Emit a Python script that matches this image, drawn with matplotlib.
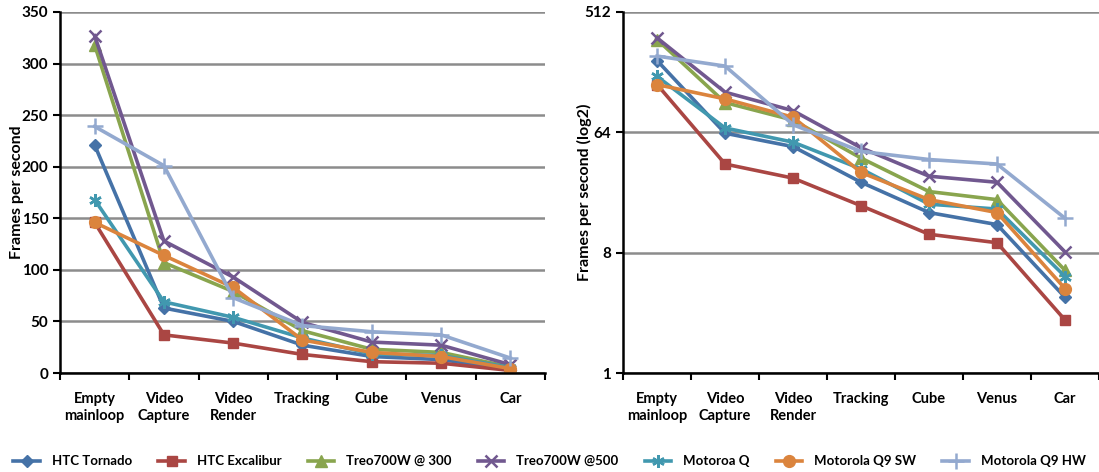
import numpy as np
import matplotlib.pyplot as plt
from matplotlib.ticker import FixedLocator, NullFormatter

plt.rcParams['font.family'] = ['Lato', 'DejaVu Sans']
plt.rcParams['font.weight'] = 'bold'

categories = ["Empty\nmainloop", "Video\nCapture", "Video\nRender", "Tracking", "Cube", "Venus", "Car"]

htc_tornado = [221, 63, 50, 27, 16, 13, 3.7]
htc_excalibur = [146, 37, 29, 18, 11, 9.5, 2.5]
treo_300 = [318, 107, 79, 41, 23, 20, 5.9]
treo_500 = [327, 128, 93, 49, 30, 27, 8.1]
motoroa_q = [168, 69, 54, 34, 18.5, 17, 5.3]
q9_sw = [146, 114, 83, 32, 20, 16, 4.3]
q9_hw = [239, 201, 73, 46, 40, 37, 14.5]

series = [
    ("HTC Tornado", htc_tornado, "#4572A7", "D", 6.5),
    ("HTC Excalibur", htc_excalibur, "#AA4643", "s", 7.5),
    ("Treo700W @ 300", treo_300, "#89A54E", "^", 8.5),
    ("Treo700W @500", treo_500, "#71588F", "x", 8.5),
    ("Motoroa Q", motoroa_q, "#4198AF", (6, 2, 0), 9),
    ("Motorola Q9 SW", q9_sw, "#DB843D", "o", 8.5),
    ("Motorola Q9 HW", q9_hw, "#93A9CF", "+", 11),
]

fig = plt.figure(figsize=(10.99, 4.72), dpi=100)
ax1 = fig.add_axes([0.0546, 0.2097, 0.4413, 0.7649])
ax2 = fig.add_axes([0.567, 0.2097, 0.433, 0.7649])

x = np.arange(len(categories))
for ax in (ax1, ax2):
    for name, vals, col, mk, ms in series:
        ax.plot(x, vals, color=col, lw=2.6, marker=mk, markersize=ms,
                markeredgewidth=1.8 if mk in ("x", "+", (6, 2, 0)) else 1,
                markeredgecolor=col, label=name, zorder=3)
    ax.set_xlim(-0.5, 6.5)
    ax.xaxis.set_major_locator(FixedLocator(np.arange(-0.5, 7, 1)))
    ax.xaxis.set_major_formatter(NullFormatter())
    ax.tick_params(axis='x', which='major', direction='out', length=5, width=1.5)
    ax.tick_params(axis='y', direction='out', length=5, width=1.5, labelsize=11)
    ax.grid(axis='y', color='#8c8c8c', lw=1.8, zorder=0)
    ax.set_axisbelow(True)
    for s in ('top', 'right'):
        ax.spines[s].set_visible(False)
    for s in ('left', 'bottom'):
        ax.spines[s].set_linewidth(1.8)
        ax.spines[s].set_zorder(4)

ax1.set_ylim(0, 350)
ax1.set_yticks(np.arange(0, 351, 50))
ax1.set_ylabel("Frames per second", fontsize=11.5, fontweight='bold')
ax1.yaxis.set_label_coords(-0.075, 0.5)

ax2.set_yscale('log', base=2)
ax2.set_ylim(1, 512)
ax2.set_yticks([1, 8, 64, 512])
ax2.set_yticklabels(["1", "8", "64", "512"])
ax2.minorticks_off()
ax2.set_ylabel("Frames per second (log2)", fontsize=11.5, fontweight='bold')
ax2.yaxis.set_label_coords(-0.066, 0.5)

for ax in (ax1, ax2):
    ax.xaxis.set_minor_locator(FixedLocator(x))
    ax.set_xticklabels(categories, minor=True, fontsize=10.5, fontweight='bold', va='top')
    ax.tick_params(axis='x', which='minor', length=0, pad=14)
    for lab in ax.get_yticklabels():
        lab.set_fontweight('bold')

handles, labels = ax1.get_legend_handles_labels()
fig.legend(handles, labels, loc='lower center', ncol=7, frameon=False,
           bbox_to_anchor=(0.5, -0.015), handlelength=2.0, handletextpad=0.9,
           columnspacing=2.0, prop={'weight': 'bold', 'size': 9.5})

fig.savefig("out.png", dpi=100)
